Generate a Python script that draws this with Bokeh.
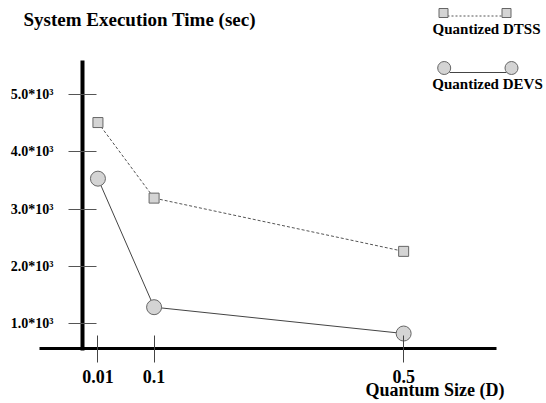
from bokeh.plotting import figure
from bokeh.models import Range1d, FixedTicker, Label, ColumnDataSource
from bokeh.embed import file_html
from bokeh.resources import INLINE

# ---- data ----
quantum = [0.01, 0.1, 0.5]
quantum_labels = ["0.01", "0.1", "0.5"]
dtss_time = [4510, 3190, 2260]
devs_time = [3530, 1285, 825]
y_ticks = [1000, 2000, 3000, 4000, 5000]
y_tick_labels = ["1.0*10³", "2.0*10³", "3.0*10³", "4.0*10³", "5.0*10³"]

FONT = "Liberation Serif"
W, H = 544, 401
OFF = 0  # page offset of the figure

# page-pixel -> data helpers (for annotations only)
X0, SX = 91.2, 623.9
Y1000, SY = 323.0, 0.05725


def px(xp):
    return (xp - X0) / SX


def py(yp):
    return 1000 + (Y1000 - yp) / SY


p = figure(width=W, height=H, output_backend="svg", toolbar_location=None,
           x_range=Range1d(px(OFF), px(OFF + W)), y_range=Range1d(py(OFF + H), py(OFF)),
           min_border=0, min_border_left=0, min_border_right=0,
           min_border_top=0, min_border_bottom=0)
p.outline_line_color = None
p.xgrid.visible = False
p.ygrid.visible = False
p.background_fill_color = "white"
p.border_fill_color = "white"

# ---- axes ----
xa = p.xaxis[0]
xa.fixed_location = py(348)
xa.bounds = (px(39), px(496))
xa.ticker = FixedTicker(ticks=quantum)
xa.major_label_overrides = {q: l for q, l in zip(quantum, quantum_labels)}
xa.axis_line_width = 3
xa.axis_line_color = "black"
xa.major_tick_in = 13
xa.major_tick_out = 14
xa.major_tick_line_color = "#444444"
xa.minor_tick_line_color = None
xa.major_label_standoff = 7
xa.major_label_text_font = FONT
xa.major_label_text_font_style = "bold"
xa.major_label_text_font_size = "18px"
xa.major_label_text_color = "black"

ya = p.yaxis[0]
ya.fixed_location = px(82)
ya.bounds = (py(350), py(60))
ya.ticker = FixedTicker(ticks=y_ticks)
ya.major_label_overrides = {t: l for t, l in zip(y_ticks, y_tick_labels)}
ya.axis_line_width = 4
ya.axis_line_color = "black"
ya.major_tick_in = 14
ya.major_tick_out = 14
ya.major_tick_line_color = "#555555"
ya.minor_tick_line_color = None
ya.major_label_standoff = 15
ya.major_label_text_font = FONT
ya.major_label_text_font_style = "bold"
ya.major_label_text_font_size = "14px"
ya.major_label_text_color = "black"
ya.major_label_orientation = "horizontal"

# ---- series ----
src = ColumnDataSource(dict(q=quantum, dtss=dtss_time, devs=devs_time))
p.line("q", "dtss", source=src, line_color="#555555", line_width=1, line_dash="3 2")
p.line("q", "devs", source=src, line_color="#444444", line_width=1)
p.scatter("q", "dtss", source=src, marker="square", size=10,
          fill_color="#d4d4d4", line_color="#666666", line_width=1)
p.scatter("q", "devs", source=src, marker="circle", size=15,
          fill_color="#d4d4d4", line_color="#666666", line_width=1)

# ---- legend (hand drawn, like the original) ----
p.line([px(447), px(502)], [py(15.5), py(15.5)], line_color="#555555",
       line_width=1, line_dash="2 2")
p.scatter([px(443), px(506)], [py(12.5), py(12.5)], marker="square", size=9,
          fill_color="#d4d4d4", line_color="#666666")
p.line([px(449), px(506)], [py(72), py(72)], line_color="#444444", line_width=1)
p.scatter([px(443.7), px(511)], [py(67.5), py(67.5)], marker="circle", size=13,
          fill_color="#d4d4d4", line_color="#666666")

lbl = dict(text_font=FONT, text_font_style="bold", text_color="black")
p.add_layout(Label(x=px(486), y=py(28), text="Quantized DTSS", text_align="center",
                   text_baseline="alphabetic", text_font_size="15px", **lbl))
p.add_layout(Label(x=px(487), y=py(83), text="Quantized DEVS", text_align="center",
                   text_baseline="alphabetic", text_font_size="15px", **lbl))

# ---- titles ----
p.add_layout(Label(x=px(23), y=py(19), text="System Execution Time (sec)",
                   text_align="left", text_baseline="alphabetic",
                   text_font_size="19px", **lbl))
p.add_layout(Label(x=px(365), y=py(389), text="Quantum Size (D)",
                   text_align="left", text_baseline="alphabetic",
                   text_font_size="18px", **lbl))

open("out.html", "w").write(file_html(p, INLINE))
